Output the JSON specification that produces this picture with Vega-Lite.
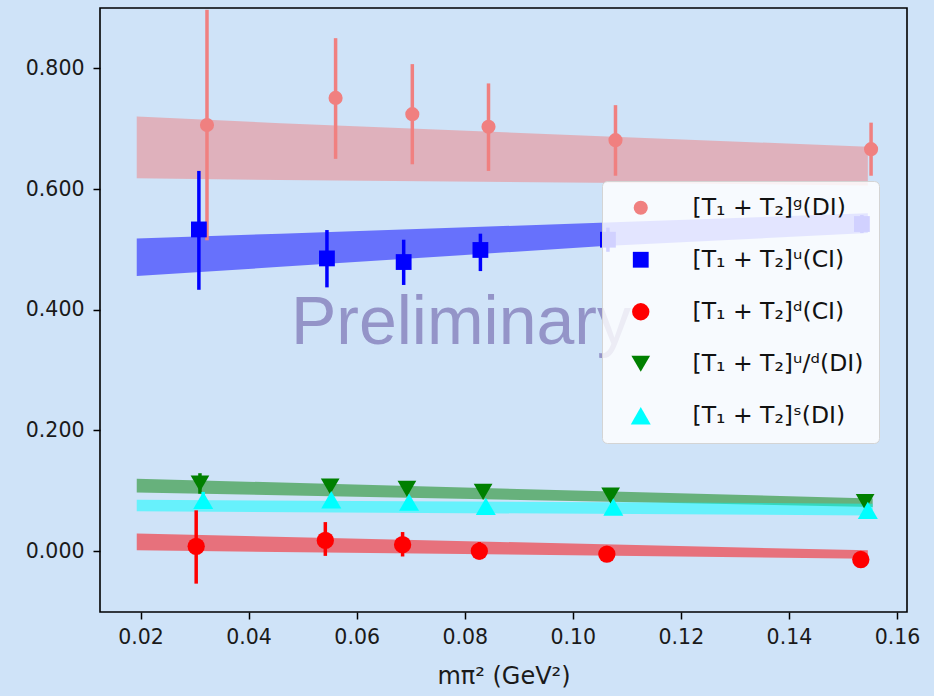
{
  "$schema": "https://vega.github.io/schema/vega-lite/v6.json",
  "width": 807,
  "height": 604,
  "autosize": {"type": "none"},
  "padding": {"left": 100, "top": 8, "right": 27, "bottom": 84},
  "background": "#cfe3f8",
  "config": {
    "view": {"stroke": "#000000", "strokeWidth": 1.6},
    "font": "DejaVu Sans",
    "axis": {
      "grid": false,
      "domain": false,
      "tickColor": "#000000",
      "tickWidth": 1.5,
      "tickSize": 7,
      "labelFont": "DejaVu Sans",
      "labelFontSize": 20.5,
      "labelColor": "#1a1a1a",
      "titleFont": "DejaVu Sans",
      "titleFontSize": 22,
      "titleFontWeight": "normal",
      "titleColor": "#1a1a1a"
    },
    "legend": {
      "fillColor": "rgba(255,255,255,0.82)",
      "strokeColor": "#d4d4d4",
      "cornerRadius": 5,
      "padding": 15,
      "labelFont": "DejaVu Sans",
      "labelFontSize": 23.5,
      "labelColor": "#111111",
      "symbolSize": 380,
      "symbolStrokeWidth": 0,
      "rowPadding": 27,
      "symbolOffset": 12,
      "labelOffset": 40,
      "labelLimit": 400
    }
  },
  "datasets": {
    "pts": [
      {"series": "[T₁ + T₂]ᵍ(DI)", "x": 0.0323, "y": 0.706, "lo": 0.515, "hi": 0.897},
      {"series": "[T₁ + T₂]ᵍ(DI)", "x": 0.0561, "y": 0.751, "lo": 0.650, "hi": 0.850},
      {"series": "[T₁ + T₂]ᵍ(DI)", "x": 0.0703, "y": 0.724, "lo": 0.641, "hi": 0.807},
      {"series": "[T₁ + T₂]ᵍ(DI)", "x": 0.0844, "y": 0.703, "lo": 0.630, "hi": 0.775},
      {"series": "[T₁ + T₂]ᵍ(DI)", "x": 0.1079, "y": 0.681, "lo": 0.622, "hi": 0.739},
      {"series": "[T₁ + T₂]ᵍ(DI)", "x": 0.1552, "y": 0.666, "lo": 0.622, "hi": 0.710},
      {"series": "[T₁ + T₂]ᵘ(CI)", "x": 0.0308, "y": 0.533, "lo": 0.433, "hi": 0.630},
      {"series": "[T₁ + T₂]ᵘ(CI)", "x": 0.0545, "y": 0.485, "lo": 0.437, "hi": 0.532},
      {"series": "[T₁ + T₂]ᵘ(CI)", "x": 0.0687, "y": 0.479, "lo": 0.441, "hi": 0.516},
      {"series": "[T₁ + T₂]ᵘ(CI)", "x": 0.0829, "y": 0.499, "lo": 0.464, "hi": 0.526},
      {"series": "[T₁ + T₂]ᵘ(CI)", "x": 0.1065, "y": 0.516, "lo": 0.496, "hi": 0.536},
      {"series": "[T₁ + T₂]ᵘ(CI)", "x": 0.1535, "y": 0.542, "lo": 0.527, "hi": 0.557},
      {"series": "[T₁ + T₂]ᵈ(CI)", "x": 0.0303, "y": 0.0078, "lo": -0.054, "hi": 0.0675},
      {"series": "[T₁ + T₂]ᵈ(CI)", "x": 0.0542, "y": 0.0177, "lo": -0.008, "hi": 0.048},
      {"series": "[T₁ + T₂]ᵈ(CI)", "x": 0.0685, "y": 0.0106, "lo": -0.009, "hi": 0.0315},
      {"series": "[T₁ + T₂]ᵈ(CI)", "x": 0.0827, "y": 0.000, "lo": -0.014, "hi": 0.015},
      {"series": "[T₁ + T₂]ᵈ(CI)", "x": 0.1063, "y": -0.005, "lo": -0.011, "hi": 0.001},
      {"series": "[T₁ + T₂]ᵈ(CI)", "x": 0.1533, "y": -0.014, "lo": -0.019, "hi": -0.009},
      {"series": "[T₁ + T₂]ᵘ/ᵈ(DI)", "x": 0.0310, "y": 0.112, "lo": 0.095, "hi": 0.129},
      {"series": "[T₁ + T₂]ᵘ/ᵈ(DI)", "x": 0.0551, "y": 0.107, "lo": 0.099, "hi": 0.115},
      {"series": "[T₁ + T₂]ᵘ/ᵈ(DI)", "x": 0.0693, "y": 0.103, "lo": 0.096, "hi": 0.110},
      {"series": "[T₁ + T₂]ᵘ/ᵈ(DI)", "x": 0.0834, "y": 0.098, "lo": 0.092, "hi": 0.104},
      {"series": "[T₁ + T₂]ᵘ/ᵈ(DI)", "x": 0.1070, "y": 0.092, "lo": 0.087, "hi": 0.097},
      {"series": "[T₁ + T₂]ᵘ/ᵈ(DI)", "x": 0.1541, "y": 0.081, "lo": 0.077, "hi": 0.085},
      {"series": "[T₁ + T₂]ˢ(DI)", "x": 0.0316, "y": 0.084, "lo": 0.070, "hi": 0.098},
      {"series": "[T₁ + T₂]ˢ(DI)", "x": 0.0553, "y": 0.085, "lo": 0.078, "hi": 0.092},
      {"series": "[T₁ + T₂]ˢ(DI)", "x": 0.0697, "y": 0.081, "lo": 0.075, "hi": 0.087},
      {"series": "[T₁ + T₂]ˢ(DI)", "x": 0.0839, "y": 0.074, "lo": 0.069, "hi": 0.079},
      {"series": "[T₁ + T₂]ˢ(DI)", "x": 0.1075, "y": 0.073, "lo": 0.069, "hi": 0.077},
      {"series": "[T₁ + T₂]ˢ(DI)", "x": 0.1546, "y": 0.0675, "lo": 0.064, "hi": 0.071}
    ],
    "bands": [
      {"series": "[T₁ + T₂]ᵍ(DI)", "x": 0.0193, "lo": 0.618, "hi": 0.720},
      {"series": "[T₁ + T₂]ᵍ(DI)", "x": 0.0459, "lo": 0.615, "hi": 0.709},
      {"series": "[T₁ + T₂]ᵍ(DI)", "x": 0.1098, "lo": 0.610, "hi": 0.686},
      {"series": "[T₁ + T₂]ᵍ(DI)", "x": 0.1546, "lo": 0.606, "hi": 0.670},
      {"series": "[T₁ + T₂]ᵘ(CI)", "x": 0.0193, "lo": 0.456, "hi": 0.518},
      {"series": "[T₁ + T₂]ᵘ(CI)", "x": 0.0459, "lo": 0.471, "hi": 0.526},
      {"series": "[T₁ + T₂]ᵘ(CI)", "x": 0.1050, "lo": 0.505, "hi": 0.544},
      {"series": "[T₁ + T₂]ᵘ(CI)", "x": 0.1546, "lo": 0.527, "hi": 0.560},
      {"series": "[T₁ + T₂]ᵈ(CI)", "x": 0.0193, "lo": 0.0012, "hi": 0.0289},
      {"series": "[T₁ + T₂]ᵈ(CI)", "x": 0.1546, "lo": -0.0126, "hi": 0.0012},
      {"series": "[T₁ + T₂]ᵘ/ᵈ(DI)", "x": 0.0193, "lo": 0.097, "hi": 0.120},
      {"series": "[T₁ + T₂]ᵘ/ᵈ(DI)", "x": 0.1555, "lo": 0.073, "hi": 0.087},
      {"series": "[T₁ + T₂]ˢ(DI)", "x": 0.0193, "lo": 0.066, "hi": 0.085},
      {"series": "[T₁ + T₂]ˢ(DI)", "x": 0.1555, "lo": 0.059, "hi": 0.0786}
    ],
    "watermark": [
      {"label": "Preliminary"}
    ]
  },
  "layer": [
    {
      "data": {"name": "bands"},
      "mark": {"type": "area", "opacity": 0.5, "interpolate": "linear"},
      "encoding": {
        "x": {"field": "x", "type": "quantitative", "scale": {"domain": [0.0125, 0.16185], "nice": false, "zero": false},
              "axis": {"values": [0.02, 0.04, 0.06, 0.08, 0.10, 0.12, 0.14, 0.16], "format": ".2f", "labelPadding": 8, "title": "mπ² (GeV²)", "titleFontSize": 24, "titlePadding": 17}},
        "y": {"field": "lo", "type": "quantitative", "scale": {"domain": [-0.101, 0.9], "nice": false, "zero": false},
              "axis": {"values": [0, 0.2, 0.4, 0.6, 0.8], "format": ".3f", "labelPadding": 9, "title": null}},
        "y2": {"field": "hi"},
        "color": {"field": "series", "type": "nominal", "legend": null,
                  "scale": {"domain": ["[T₁ + T₂]ᵍ(DI)", "[T₁ + T₂]ᵘ(CI)", "[T₁ + T₂]ᵈ(CI)", "[T₁ + T₂]ᵘ/ᵈ(DI)", "[T₁ + T₂]ˢ(DI)"],
                            "range": ["#f08080", "#0000ff", "#ff0000", "#008000", "#00ffff"]}}
      }
    },
    {
      "data": {"name": "pts"},
      "mark": {"type": "rule", "strokeWidth": 3.5},
      "encoding": {
        "x": {"field": "x", "type": "quantitative"},
        "y": {"field": "lo", "type": "quantitative"},
        "y2": {"field": "hi"},
        "color": {"field": "series", "type": "nominal", "legend": null}
      }
    },
    {
      "data": {"name": "pts"},
      "mark": {"type": "point", "filled": true, "opacity": 1, "strokeWidth": 0},
      "encoding": {
        "x": {"field": "x", "type": "quantitative"},
        "y": {"field": "y", "type": "quantitative"},
        "color": {"field": "series", "type": "nominal",
                  "legend": {"title": null, "orient": "none", "legendX": 502, "legendY": 173}},
        "shape": {"field": "series", "type": "nominal",
                  "scale": {"domain": ["[T₁ + T₂]ᵍ(DI)", "[T₁ + T₂]ᵘ(CI)", "[T₁ + T₂]ᵈ(CI)", "[T₁ + T₂]ᵘ/ᵈ(DI)", "[T₁ + T₂]ˢ(DI)"],
                            "range": ["circle", "square", "circle", "triangle-down", "triangle-up"]},
                  "legend": {"title": null, "orient": "none", "legendX": 502, "legendY": 173}},
        "size": {"field": "series", "type": "nominal", "legend": null,
                 "scale": {"domain": ["[T₁ + T₂]ᵍ(DI)", "[T₁ + T₂]ᵘ(CI)", "[T₁ + T₂]ᵈ(CI)", "[T₁ + T₂]ᵘ/ᵈ(DI)", "[T₁ + T₂]ˢ(DI)"],
                           "range": [200, 400, 150, 470, 500]}}
      }
    },
    {
      "data": {"name": "watermark"},
      "mark": {"type": "text", "font": "Liberation Sans", "fontSize": 68, "color": "#9494c8", "align": "center", "baseline": "alphabetic"},
      "encoding": {
        "text": {"field": "label", "type": "nominal"},
        "x": {"datum": 0.0793, "type": "quantitative"},
        "y": {"datum": 0.343, "type": "quantitative"}
      }
    }
  ],
  "resolve": {"legend": {"color": "independent", "shape": "independent", "size": "independent"}}
}
